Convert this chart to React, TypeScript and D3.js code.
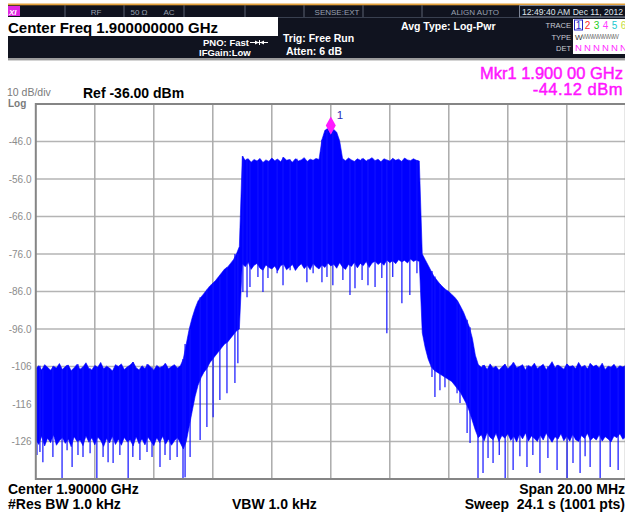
import React, { useEffect, useRef } from "react";
import * as d3 from "d3";

// Sweep 1.890 .. 1.910 GHz, trace every 0.1 MHz
const startMHz = 1890;
const stepMHz = 0.1;

// upper edge of the trace (dBm), one value per 0.1 MHz
const traceTop = [
  -106.5, -105.8, -106.9, -105.5, -106.2, -107.0, -105.9, -106.4, -105.2, -106.8,
  -106.0, -105.6, -107.1, -106.3, -105.4, -106.7, -106.1, -105.0, -106.5, -106.9,
  -105.7, -106.2, -104.9, -106.6, -105.9, -106.4, -107.2, -105.5, -106.0, -105.3,
  -106.8, -106.1, -105.6, -104.8, -106.3, -106.9, -105.8, -106.5, -105.4, -106.2,
  -107.0, -105.7, -106.3, -105.9, -105.2, -106.6, -106.0, -105.5, -106.4, -105.8,
  -104.0, -100.0, -96.0, -93.0, -90.5, -88.5, -87.5, -86.5, -85.5, -84.5,
  -83.8, -83.0, -82.0, -81.0, -80.0, -79.5, -78.5, -77.5, -76.0, -74.0,
  -49.9, -51.0, -50.6, -51.5, -50.8, -51.2, -50.5, -51.6, -50.9, -51.3,
  -50.4, -51.1, -50.7, -51.4, -50.2, -51.0, -50.8, -51.5, -50.6, -51.2,
  -50.9, -50.3, -51.3, -50.7, -51.0, -50.5, -50.8, -45.5, -43.0, -42.6,
  -44.1, -42.8, -43.5, -45.8, -50.6, -51.1, -50.4, -50.9, -51.3, -50.6,
  -51.0, -50.5, -51.2, -50.8, -50.3, -51.1, -50.7, -51.4, -50.6, -50.9,
  -51.2, -50.5, -51.0, -50.7, -51.3, -50.4, -50.9, -51.1, -50.6, -51.0,
  -51.2, -76.0, -77.5, -79.0, -80.5, -82.0, -83.0, -84.0, -84.8, -85.5,
  -86.0, -86.8, -87.5, -88.5, -90.0, -91.5, -93.5, -95.5, -98.5, -103.0,
  -105.5, -106.2, -105.6, -106.8, -105.3, -106.4, -105.9, -107.0, -106.1, -105.4,
  -106.6, -105.8, -104.9, -106.3, -106.0, -105.5, -106.9, -105.7, -106.2, -105.1,
  -106.5, -106.0, -105.4, -106.8, -105.9, -104.7, -106.3, -105.6, -106.1, -106.7,
  -105.3, -106.0, -105.8, -106.5, -104.9, -106.2, -105.7, -106.6, -105.2, -106.0,
  -105.6, -106.4, -105.1, -106.8, -105.9, -106.2, -105.4, -106.5, -105.8, -106.1,
  -105.7,
];

// lower edge of the solid trace body (dBm)
const traceBottom = [
  -125.5, -126.8, -124.6, -127.2, -125.1, -126.3, -124.2, -127.0, -125.8, -124.9,
  -126.5, -125.3, -127.4, -124.7, -126.0, -125.6, -127.1, -124.5, -126.2, -125.0,
  -126.9, -124.8, -125.7, -127.3, -125.2, -126.4, -124.6, -126.8, -125.4, -127.0,
  -124.9, -126.1, -125.5, -127.2, -124.7, -126.6, -125.3, -126.9, -124.8, -125.9,
  -127.1, -125.0, -126.3, -124.6, -126.7, -125.4, -127.0, -125.8, -124.9, -126.4,
  -128.0, -126.0, -122.0, -118.0, -114.0, -111.0, -109.0, -107.5, -106.5, -105.0,
  -104.0, -103.0, -102.0, -101.0, -100.0, -99.5, -98.5, -97.5, -96.5, -96.0,
  -78.6, -79.4, -78.2, -80.1, -79.0, -78.5, -79.8, -80.3, -78.9, -79.6,
  -80.0, -79.2, -80.5, -79.1, -78.7, -80.2, -79.5, -78.8, -80.4, -79.3,
  -78.6, -79.9, -79.0, -80.2, -78.5, -79.4, -80.0, -78.9, -79.6, -78.4,
  -79.2, -78.7, -79.8, -78.3, -79.5, -80.1, -78.8, -79.3, -78.2, -79.7,
  -78.5, -79.1, -78.0, -79.6, -78.4, -77.9, -78.8, -78.2, -79.0, -77.6,
  -78.3, -77.8, -78.6, -77.5, -78.1, -77.7, -78.4, -77.3, -78.0, -77.6,
  -78.0, -97.0, -101.0, -104.0, -106.0, -107.0, -107.5, -108.0, -108.5, -109.0,
  -109.5, -110.0, -111.0, -112.0, -113.0, -114.5, -116.0, -118.0, -120.5, -123.0,
  -125.0, -124.2, -125.8, -123.6, -124.9, -125.5, -123.8, -126.0, -124.4, -125.1,
  -123.9, -125.7, -124.6, -126.1, -124.0, -125.3, -123.7, -125.9, -124.5, -125.2,
  -126.0, -124.3, -125.6, -123.8, -125.0, -126.2, -124.7, -125.4, -123.9, -125.8,
  -124.6, -125.9, -124.1, -125.5, -126.0, -124.4, -125.2, -123.8, -125.7, -124.9,
  -125.6, -124.2, -125.9, -124.7, -125.3, -126.1, -124.5, -125.0, -123.9, -125.4,
  -124.8,
];

// long downward spikes below the trace body: [MHz, dBm]
const spikes = [
  [1890.04, -129.6], [1890.14, -128.8], [1890.24, -131.5], [1890.58, -130.1],
  [1890.89, -136.0], [1891.06, -128.3], [1891.23, -132.8], [1891.43, -129.6],
  [1891.6, -130.1], [1891.84, -129.1], [1892.07, -136.0], [1892.28, -130.1],
  [1892.45, -131.5], [1892.62, -131.7], [1892.85, -129.6], [1893.13, -136.0],
  [1893.29, -130.1], [1893.53, -130.9], [1893.77, -128.8], [1893.94, -130.1],
  [1894.21, -132.8], [1894.38, -129.6], [1894.55, -130.9], [1894.79, -130.1],
  [1894.99, -136.0],
  [1895.06, -135.5], [1895.23, -130.1], [1895.57, -125.6], [1895.8, -122.1],
  [1896.01, -119.5], [1896.24, -114.9], [1896.48, -113.1], [1896.75, -110.4],
  [1896.85, -105.1],
  [1897.02, -86.1], [1897.16, -87.5], [1897.26, -84.8], [1897.53, -82.1],
  [1897.7, -86.1], [1897.87, -82.4], [1898.18, -81.1], [1898.38, -84.3],
  [1898.62, -80.3], [1898.85, -79.5], [1899.19, -83.5], [1899.4, -81.1],
  [1899.7, -83.5], [1899.87, -82.1], [1900.07, -84.3], [1900.41, -82.9],
  [1900.65, -86.9], [1900.82, -85.1], [1901.06, -82.9], [1901.26, -84.3],
  [1901.5, -84.8], [1901.73, -82.4], [1901.9, -97.1], [1902.1, -82.1],
  [1902.41, -89.1], [1902.68, -86.9], [1902.92, -81.1],
  [1903.43, -108.8], [1903.53, -114.1], [1903.7, -112.3], [1903.87, -111.5],
  [1904.28, -113.1], [1904.38, -115.7], [1904.62, -123.7], [1904.72, -126.4],
  [1904.99, -136.0], [1905.16, -134.4], [1905.33, -130.4], [1905.5, -131.7],
  [1905.71, -129.6], [1905.91, -136.0], [1906.18, -133.6], [1906.41, -129.9],
  [1906.65, -132.8], [1906.85, -129.6], [1907.09, -134.4], [1907.36, -130.4],
  [1907.67, -133.6], [1908.01, -136.0], [1908.21, -131.7], [1908.45, -134.4],
  [1908.62, -129.9], [1908.79, -132.8], [1909.13, -136.0], [1909.47, -132.8],
  [1909.74, -133.6],
];

const yTicks = [-46, -56, -66, -76, -86, -96, -106, -116, -126];
const yTickLabels = ["-46.0", "-56.0", "-66.0", "-76.0", "-86.0", "-96.0", "-106", "-116", "-126"];
const xGrid = [1892, 1894, 1896, 1898, 1900, 1902, 1904, 1906, 1908];

const markerMHz = 1900;
const markerDbm = -44.12;

const traceNums = ["1", "2", "3", "4", "5", "6"];
const traceColors = ["#2626c8", "#ff2a2a", "#22cc22", "#ff3cff", "#20c8d0", "#c4e03a"];

const FONT = '"Liberation Sans", Arial, sans-serif';

const App = () => {
  const svgRef = useRef<SVGSVGElement>(null);

  useEffect(() => {
    const width = 625;
    const height = 514;
    const svg = d3.select(svgRef.current);
    svg.selectAll("*").remove();
    svg.attr("width", width).attr("height", height).style("font-family", FONT);

    svg.append("rect").attr("width", width).attr("height", height).attr("fill", "#ffffff");

    // ---- instrument header ----
    const head = svg.append("g");
    head.append("rect").attr("x", 8).attr("y", 5).attr("width", 617).attr("height", 53).attr("fill", "#10131f");
    head.append("rect").attr("x", 8).attr("y", 3.5).attr("width", 617).attr("height", 1.8).attr("fill", "#e3a13c");
    head.append("line").attr("x1", 278).attr("x2", 625).attr("y1", 17.5).attr("y2", 17.5)
      .attr("stroke", "#394050").attr("stroke-width", 1);
    head.append("rect").attr("x", 8).attr("y", 58).attr("width", 617).attr("height", 2).attr("fill", "#9c9c9c");
    head.append("rect").attr("x", 8).attr("y", 60).attr("width", 617).attr("height", 1).attr("fill", "#d4d4d4");

    // status bar
    [65, 124, 184, 245, 304, 363, 422].forEach((sx) => {
      head.append("line").attr("x1", sx).attr("x2", sx).attr("y1", 5).attr("y2", 17)
        .attr("stroke", "#5a6272").attr("stroke-width", 1);
    });
    head.append("rect").attr("x", 519.5).attr("y", 5.5).attr("width", 106).attr("height", 11.5)
      .attr("fill", "none").attr("stroke", "#7d8596").attr("stroke-width", 1);
    head.append("rect").attr("x", 8).attr("y", 6).attr("width", 12).attr("height", 10).attr("fill", "#e126e1");
    head.append("text").attr("x", 9).attr("y", 14.5).attr("fill", "#ffffff").style("font-size", "8px")
      .style("font-weight", "bold").style("font-style", "italic").text("XI");

    const status = [
      { t: "RF", x: 96 },
      { t: "50 Ω", x: 139 },
      { t: "AC", x: 169 },
      { t: "SENSE:EXT", x: 337 },
      { t: "ALIGN AUTO", x: 475 },
    ];
    status.forEach((s) => {
      head.append("text").attr("x", s.x).attr("y", 15).attr("text-anchor", "middle")
        .attr("fill", "#98a0b0").style("font-size", "8px").text(s.t);
    });
    head.append("text").attr("x", 522).attr("y", 15).attr("fill", "#dfe3ea")
      .style("font-size", "8.6px").text("12:49:40 AM Dec 11, 2012");

    // center freq box
    head.append("rect").attr("x", 8).attr("y", 17).attr("width", 270).attr("height", 19).attr("fill", "#ffffff");
    head.append("text").attr("x", 8).attr("y", 32.5).attr("fill", "#000").style("font-size", "15px")
      .style("font-weight", "bold").text("Center Freq 1.900000000 GHz");

    const white = (t: string, x: number, y: number, size: number) =>
      head.append("text").attr("x", x).attr("y", y).attr("fill", "#ffffff")
        .style("font-size", `${size}px`).style("font-weight", "bold").text(t);
    white("PNO: Fast", 203, 46, 9.5);
    white("IFGain:Low", 199, 56, 9.5);
    white("Trig: Free Run", 283, 42, 10.5);
    white("Atten: 6 dB", 286, 55, 10.5);
    white("Avg Type: Log-Pwr", 401, 30, 10.5);

    // small arrow glyph after PNO
    head.append("line").attr("x1", 250).attr("x2", 268).attr("y1", 42.5).attr("y2", 42.5)
      .attr("stroke", "#ffffff").attr("stroke-width", 1);
    head.append("path").attr("d", "M255,40.5 L259,42.5 L255,44.5 Z M264,40.5 L260,42.5 L264,44.5 Z").attr("fill", "#ffffff");
    head.append("line").attr("x1", 259.5).attr("x2", 259.5).attr("y1", 40).attr("y2", 45)
      .attr("stroke", "#ffffff").attr("stroke-width", 1);

    // trace table
    [["TRACE", 28], ["TYPE", 39.5], ["DET", 51]].forEach(([t, ty]) => {
      head.append("text").attr("x", 571).attr("y", ty as number).attr("text-anchor", "end")
        .attr("fill", "#c8ccd4").style("font-size", "7.5px").text(t as string);
    });
    head.append("rect").attr("x", 573).attr("y", 19).attr("width", 52).attr("height", 35).attr("fill", "#ffffff");
    head.append("rect").attr("x", 574.5).attr("y", 20).attr("width", 8).attr("height", 10)
      .attr("fill", "#ffffff").attr("stroke", "#2626c8").attr("stroke-width", 1);
    traceNums.forEach((n, i) => {
      head.append("text").attr("x", 578.5 + i * 9).attr("y", 28.5).attr("text-anchor", "middle")
        .attr("fill", traceColors[i]).style("font-size", "10px").text(n);
      head.append("text").attr("x", 578.5 + i * 9).attr("y", 51).attr("text-anchor", "middle")
        .attr("fill", "#ff2aff").style("font-size", "9.5px").text("N");
    });
    head.append("text").attr("x", 575).attr("y", 39.5).attr("fill", "#333")
      .style("font-size", "8px").text("W");
    head.append("text").attr("x", 582).attr("y", 39).attr("fill", "#777")
      .style("font-size", "6.5px").style("letter-spacing", "-1px").text("WWWWWWW");

    // ---- readouts above the graticule ----
    svg.append("text").attr("x", 7).attr("y", 96).attr("fill", "#7a7a7a").style("font-size", "10.5px").text("10 dB/div");
    svg.append("text").attr("x", 8).attr("y", 106.5).attr("fill", "#7a7a7a").style("font-size", "10px")
      .style("font-weight", "bold").text("Log");
    svg.append("text").attr("x", 83).attr("y", 98).attr("fill", "#000").style("font-size", "14px")
      .style("font-weight", "bold").text("Ref -36.00 dBm");
    svg.append("text").attr("x", 623).attr("y", 78.5).attr("text-anchor", "end").attr("fill", "#ff14ff")
      .attr("stroke", "#ff14ff").attr("stroke-width", 0.45)
      .style("font-size", "16.5px").text("Mkr1 1.900 00 GHz");
    svg.append("text").attr("x", 623).attr("y", 95).attr("text-anchor", "end").attr("fill", "#ff14ff")
      .attr("stroke", "#ff14ff").attr("stroke-width", 0.45)
      .style("font-size", "16.5px").style("letter-spacing", "0.5px").text(`${markerDbm.toFixed(2)} dBm`);

    // ---- graticule ----
    const x = d3.scaleLinear().domain([1890, 1910]).range([35.8, 625.8]);
    const y = d3.scaleLinear().domain([-136, -36]).range([479, 104]);
    const freqAt = (i: number) => startMHz + i * stepMHz;

    const plot = svg.append("g");
    plot.append("defs").append("clipPath").attr("id", "plotClip").append("rect")
      .attr("x", x(1890)).attr("y", y(-36)).attr("width", x(1910) - x(1890)).attr("height", y(-136) - y(-36));

    const grid = plot.append("g");
    yTicks.forEach((v) => {
      grid.append("line").attr("x1", x(1890)).attr("x2", x(1910)).attr("y1", y(v)).attr("y2", y(v))
        .attr("stroke", "#b4b4b4").attr("stroke-width", 1.5);
    });
    xGrid.forEach((f) => {
      grid.append("line").attr("x1", x(f)).attr("x2", x(f)).attr("y1", y(-36)).attr("y2", y(-136))
        .attr("stroke", "#ababab").attr("stroke-width", 1.5);
    });

    yTicks.forEach((v, i) => {
      svg.append("text").attr("x", 31.5).attr("y", y(v)).attr("dy", "0.35em").attr("text-anchor", "end")
        .attr("fill", "#8c8c8c").style("font-size", "10px").text(yTickLabels[i]);
    });

    // trace body
    const area = d3.area<number>()
      .x((_, i) => x(freqAt(i)))
      .y0((_, i) => y(traceBottom[i]))
      .y1((d) => y(d));
    const traceG = plot.append("g").attr("clip-path", "url(#plotClip)");
    traceG.append("path").datum(traceTop).attr("d", area).attr("fill", "#0000ff")
      .attr("stroke", "#0000ff").attr("stroke-width", 0.6);

    traceG.selectAll(".spike").data(spikes).enter().append("line")
      .attr("class", "spike")
      .attr("x1", (d) => x(d[0])).attr("x2", (d) => x(d[0]))
      .attr("y1", (d) => y(d[1]))
      .attr("y2", (d) => y(traceTop[Math.round((d[0] - startMHz) / stepMHz)]))
      .attr("stroke", "#1010ff").attr("stroke-width", 1.2);

    // frame
    plot.append("rect").attr("x", x(1890)).attr("y", y(-36)).attr("width", x(1910) - x(1890))
      .attr("height", y(-136) - y(-36)).attr("fill", "none").attr("stroke", "#858585").attr("stroke-width", 2);

    // marker 1
    const mx = x(markerMHz);
    const my = y(markerDbm);
    plot.append("path").attr("d", `M${mx},${my} L${mx + 5},${my - 9} L${mx},${my - 18} L${mx - 5},${my - 9} Z`)
      .attr("fill", "#ff1aff");
    plot.append("text").attr("x", mx + 6).attr("y", my - 15).attr("fill", "#2b2bb8")
      .style("font-size", "11.5px").text("1");

    // ---- footer ----
    const foot = (t: string, fx: number, fy: number, anchor: string) =>
      svg.append("text").attr("x", fx).attr("y", fy).attr("text-anchor", anchor).attr("fill", "#000")
        .style("font-size", "14px").style("font-weight", "bold").style("white-space", "pre").text(t);
    foot("Center 1.90000 GHz", 8, 494, "start");
    foot("#Res BW 1.0 kHz", 8, 509, "start");
    foot("VBW 1.0 kHz", 232, 509, "start");
    foot("Span 20.00 MHz", 625, 494, "end");
    foot("Sweep  24.1 s (1001 pts)", 625, 509, "end");
  }, []);

  return (
    <svg ref={svgRef} style={{ position: "absolute", left: 0, top: 0, display: "block" }} />
  );
};

export default App;
